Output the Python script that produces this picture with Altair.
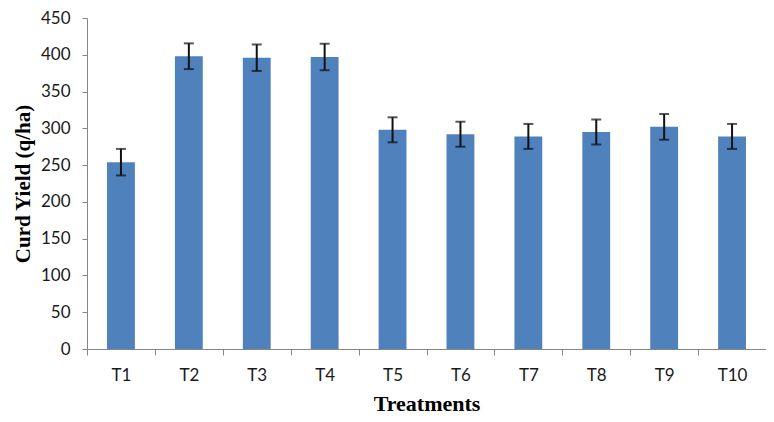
import altair as alt
import pandas as pd

treatments = ["T1", "T2", "T3", "T4", "T5", "T6", "T7", "T8", "T9", "T10"]
yield_vals = [254, 398, 396, 397, 298, 292, 289, 295, 302, 289]
errors = [18, 17.5, 18, 18, 17, 17, 17, 17, 17.5, 17]
y_ticks = [0, 50, 100, 150, 200, 250, 300, 350, 400, 450]

df = pd.DataFrame({"Treatment": treatments, "Yield": yield_vals, "Err": errors})
df["lo"] = df["Yield"] - df["Err"]
df["hi"] = df["Yield"] + df["Err"]

x_enc = alt.X(
    "Treatment:N",
    sort=treatments,
    scale=alt.Scale(paddingInner=0, paddingOuter=0),
    axis=alt.Axis(title="Treatments", labelAngle=0, tickBand="extent",
                  tickSize=6, labelPadding=12, titlePadding=10,
                  titleFontSize=22),
)
y_axis = alt.Axis(title="Curd Yield (q/ha)", values=y_ticks, tickSize=5,
                  labelPadding=12, titlePadding=7, grid=False,
                  titleFontSize=21)
y_scale = alt.Scale(domain=[0, 450], nice=False)

base = alt.Chart(df)
bars = base.mark_bar(color="#4F81BD", width=alt.RelativeBandSize(0.41)).encode(
    x=x_enc, y=alt.Y("Yield:Q", scale=y_scale, axis=y_axis)
)
rules = base.mark_rule(color="#111111", strokeWidth=2).encode(
    x=x_enc, y=alt.Y("lo:Q", scale=y_scale, axis=y_axis), y2="hi:Q"
)
caps_hi = base.mark_tick(color="#111111", thickness=2, size=10).encode(
    x=x_enc, y=alt.Y("hi:Q", scale=y_scale, axis=y_axis)
)
caps_lo = base.mark_tick(color="#111111", thickness=2, size=10).encode(
    x=x_enc, y=alt.Y("lo:Q", scale=y_scale, axis=y_axis)
)

chart = (
    alt.layer(bars, rules, caps_hi, caps_lo)
    .properties(
        width=679,
        height=331,
        padding={"left": 79, "top": 10, "right": 0, "bottom": 65},
        autosize=alt.AutoSizeParams(type="none"),
        background="white",
    )
    .configure_view(stroke=None)
    .configure_axis(
        domainColor="#868686",
        tickColor="#868686",
        labelFont="Lato",
        labelFontSize=17,
        labelColor="#1a1a1a",
        titleFont="Liberation Serif",
        titleFontWeight="bold",
        titleColor="#000000",
    )
)

chart.save("out.html", embed_options={"renderer": "svg", "actions": False})
